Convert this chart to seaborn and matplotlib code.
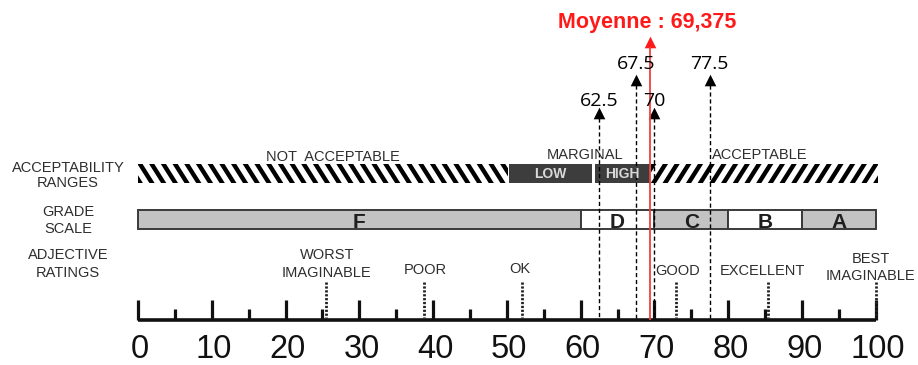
import numpy as np
import matplotlib
matplotlib.use("Agg")
import matplotlib.pyplot as plt
import seaborn as sns
from matplotlib.patches import Rectangle, Polygon

# ---------------- data ----------------
axis_ticks = [0, 10, 20, 30, 40, 50, 60, 70, 80, 90, 100]
axis_tick_labels = ["0", "10", "20", "30", "40", "50", "60", "70", "80", "90", "100"]
minor_ticks = [5, 15, 25, 35, 45, 55, 65, 75, 85, 95]

row_labels = ["ACCEPTABILITY\nRANGES", "GRADE\nSCALE", "ADJECTIVE\nRATINGS"]

grade_letters = ["F", "D", "C", "B", "A"]
grade_starts = [0, 60, 70, 80, 90]
grade_ends = [60, 70, 80, 90, 100]

acc_labels = ["NOT  ACCEPTABLE", "MARGINAL", "ACCEPTABLE"]
acc_label_values = [26.4, 60.6, 84.3]
not_acc_range = [0, 50.1]
marginal_names = ["LOW", "HIGH"]
marginal_starts = [50.3, 62.0]
marginal_ends = [61.6, 69.4]
acc_range = [69.6, 100.3]

adjectives = ["WORST\nIMAGINABLE", "POOR", "OK", "GOOD", "EXCELLENT", "BEST\nIMAGINABLE"]
adjective_values = [25.5, 38.8, 52.1, 72.9, 85.4, 100]
adjective_label_values = [25.6, 39.0, 51.8, 73.1, 84.7, 99.3]

scores = [62.5, 67.5, 70, 77.5]
score_labels = ["62.5", "67.5", "70", "77.5"]
mean_score = 69.375
mean_label = "Moyenne : 69,375"

# ---------------- layout / style ----------------
PX = 7.377          # pixels per unit
X0 = 138            # pixel of value 0
W, H = 918, 365

sns.set_theme(style="white")
plt.rcParams["font.family"] = ["Liberation Sans", "DejaVu Sans"]

fig = plt.figure(figsize=(W / 100, H / 100), dpi=100)
ax = fig.add_axes([0, 0, 1, 1])
ax.set_xlim(-X0 / PX, (W - X0) / PX)
ax.set_ylim(H, 0)
ax.axis("off")

txt_col = "#2e2e2e"

# row labels (left)
row_line_baselines = [(172, 187), (216, 233), (259, 277)]
for lab, bls in zip(row_labels, row_line_baselines):
    for line, bl in zip(lab.split("\n"), bls):
        ax.text(-70 / PX, bl, line, ha="center", va="baseline",
                fontsize=10.5, color=txt_col)

# ---------------- acceptability band ----------------
band_top, band_bot = 164, 183
period, slant, sw = 11.7 / PX, 12 / PX, 5.2 / PX


def stripes(x_lo, x_hi, direction):
    clip = Rectangle((x_lo, band_top), x_hi - x_lo, band_bot - band_top,
                     transform=ax.transData, facecolor="none", edgecolor="none")
    ax.add_patch(clip)
    for x in np.arange(x_lo - 2 * slant, x_hi + slant, period):
        if direction == "back":   # top-left to bottom-right
            pts = [(x, band_top), (x + sw, band_top),
                   (x + sw + slant, band_bot), (x + slant, band_bot)]
        else:                     # bottom-left to top-right
            pts = [(x + slant, band_top), (x + slant + sw, band_top),
                   (x + sw, band_bot), (x, band_bot)]
        p = Polygon(pts, closed=True, facecolor="black", edgecolor="none")
        ax.add_patch(p)
        p.set_clip_path(clip)


stripes(not_acc_range[0], not_acc_range[1], "back")
stripes(acc_range[0], acc_range[1], "fwd")

ax.barh([(band_top + band_bot) / 2] * 2,
        [e - s for s, e in zip(marginal_starts, marginal_ends)],
        left=marginal_starts, height=band_bot - band_top,
        color="#3d3d3d", edgecolor="none")
for name, s, e in zip(marginal_names, marginal_starts, marginal_ends):
    ax.text((s + e) / 2, 178.5, name, ha="center", va="baseline",
            fontsize=10, fontweight="bold", color="#d9d9d9")

acc_baselines = [161, 159, 159]
for lab, v, bl in zip(acc_labels, acc_label_values, acc_baselines):
    ax.text(v, bl, lab, ha="center", va="baseline", fontsize=10.5, color=txt_col)

# ---------------- grade scale ----------------
g_top, g_bot = 210, 229
grade_colors = ["#c3c3c3", "#ffffff", "#c3c3c3", "#ffffff", "#c3c3c3"]
ax.barh([(g_top + g_bot) / 2] * len(grade_letters),
        [e - s for s, e in zip(grade_starts, grade_ends)],
        left=grade_starts, height=g_bot - g_top,
        color=grade_colors, edgecolor="#3a3a3a", linewidth=1.4, zorder=1)
for letter, s, e in zip(grade_letters, grade_starts, grade_ends):
    ax.text((s + e) / 2, 228, letter, ha="center", va="baseline",
            fontsize=15, fontweight="bold", color="#1e1e1e", zorder=5)

# ---------------- axis ----------------
axis_y = 320
ax.hlines(axis_y, axis_ticks[0], axis_ticks[-1], color="#111111", lw=2.6)
ax.vlines(axis_ticks, 300, axis_y, color="#111111", lw=2.3)
ax.vlines(minor_ticks, 309, axis_y, color="#111111", lw=2.3)
for v, lab in zip(axis_ticks, axis_tick_labels):
    ax.text(v + 0.3, 364.5, lab, ha="center", va="bottom", fontsize=23.5,
            color="#111111")

# ---------------- adjective ratings ----------------
ax.vlines(adjective_values, 282, 318, color="#222222", lw=2.0,
          linestyles=[(0, (0.8, 0.6))])
adj_baselines = [(259, 277), (274,), (273,), (275,), (275,), (263, 280)]
for lab, v, bls in zip(adjectives, adjective_label_values, adj_baselines):
    for line, bl in zip(lab.split("\n"), bls):
        ax.text(v, bl, line, ha="center", va="baseline", fontsize=10.5, color=txt_col)

# ---------------- score arrows ----------------
tips = [107, 74, 107, 74]
head_h = 11
ax.vlines(scores, [t + head_h for t in tips], 318, color="black", lw=1.0,
          linestyles=[(0, (3, 2))])
sns.scatterplot(x=scores, y=[t + head_h / 2 for t in tips], marker="^", s=70,
                color="black", edgecolor="black", linewidth=0, ax=ax, legend=False)
lab_baselines = [106, 69, 106, 69]
for v, lab, bl in zip(scores, score_labels, lab_baselines):
    ax.text(v, bl, lab, ha="center", va="baseline", fontsize=14,
            family=["Open Sans", "DejaVu Sans"], color="black")

# ---------------- mean ----------------
red = "#ff1a1a"
mean_tip = 36
ax.vlines([mean_score], mean_tip + head_h, axis_y, color="#f04040", lw=1.3)
sns.scatterplot(x=[mean_score], y=[mean_tip + head_h / 2], marker="^", s=70,
                color=red, edgecolor=red, linewidth=0, ax=ax, legend=False)
ax.text(mean_score - 0.4, 28, mean_label, ha="center", va="baseline",
        fontsize=15.5, fontweight="bold", color=red)

fig.savefig("out.png", dpi=100)
